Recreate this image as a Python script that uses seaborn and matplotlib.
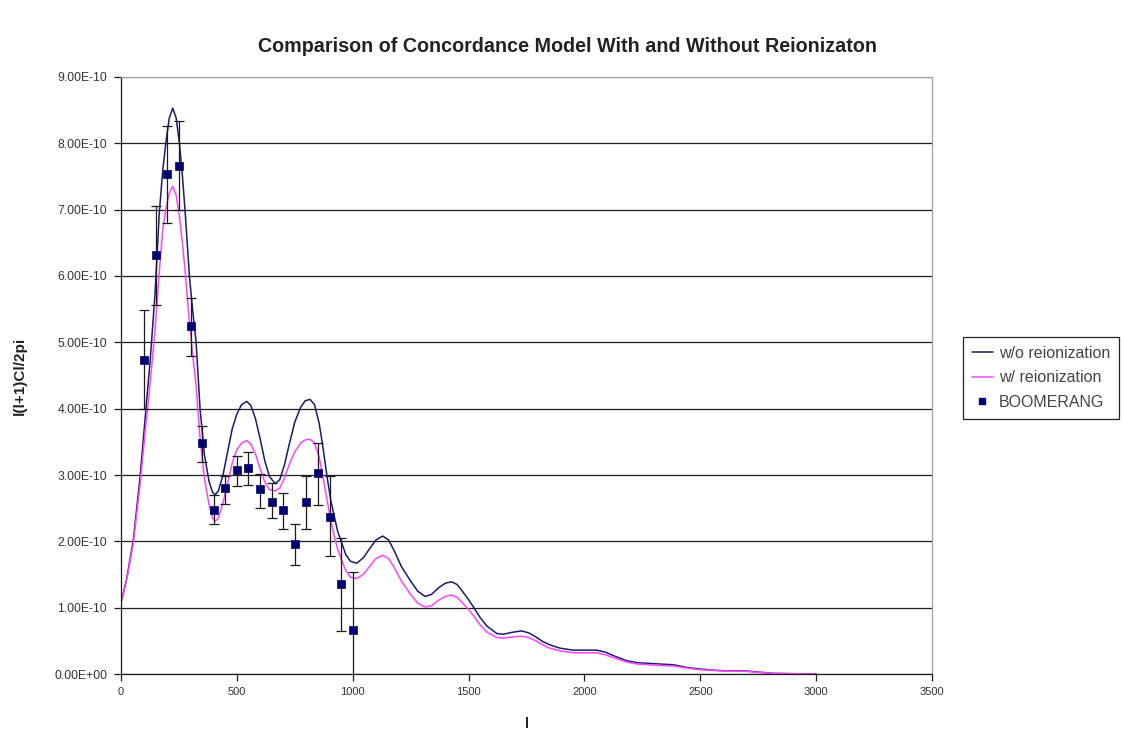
import numpy as np
import pandas as pd
import matplotlib
matplotlib.use("Agg")
import matplotlib.pyplot as plt
from matplotlib.ticker import FuncFormatter
from matplotlib.lines import Line2D
import seaborn as sns

# Multipole grid and model spectra, l(l+1)C_l/2pi in units of 1e-10
ell_model = [2, 25, 53, 82, 107, 126, 147, 165, 180, 193, 208, 223, 238, 252, 265, 276,
             295, 310, 324, 341, 360, 380, 395, 406, 420, 440, 460, 480, 500, 520, 542,
             560, 580, 600, 620, 640, 665, 685, 705, 725, 750, 775, 795, 816, 835, 855,
             870, 888, 905, 920, 935, 952, 970, 990, 1017, 1045, 1075, 1100, 1129, 1155,
             1180, 1210, 1250, 1280, 1312, 1340, 1370, 1400, 1427, 1450, 1475, 1500, 1521,
             1550, 1580, 1622, 1650, 1690, 1729, 1760, 1790, 1820, 1850, 1895, 1950, 2000,
             2053, 2090, 2130, 2183, 2230, 2280, 2330, 2384, 2440, 2499, 2550, 2600, 2650,
             2700, 2750, 2815, 2900, 3000]

no_reion = [1.10, 1.45, 2.02, 2.97, 3.98, 4.74, 5.75, 6.95, 7.60, 8.00, 8.38, 8.53, 8.38,
            8.00, 7.50, 7.00, 6.00, 5.45, 5.00, 4.00, 3.30, 2.90, 2.74, 2.70, 2.76, 3.00,
            3.35, 3.70, 3.92, 4.06, 4.11, 4.05, 3.85, 3.55, 3.22, 2.98, 2.87, 2.93, 3.15,
            3.45, 3.80, 4.02, 4.12, 4.14, 4.06, 3.78, 3.45, 3.00, 2.62, 2.38, 2.15, 1.98,
            1.80, 1.70, 1.67, 1.75, 1.90, 2.02, 2.08, 2.02, 1.85, 1.62, 1.40, 1.25, 1.17,
            1.20, 1.30, 1.37, 1.39, 1.35, 1.24, 1.12, 1.01, 0.85, 0.72, 0.61, 0.60, 0.63,
            0.65, 0.62, 0.56, 0.49, 0.44, 0.39, 0.36, 0.36, 0.36, 0.33, 0.27, 0.20, 0.17,
            0.16, 0.15, 0.14, 0.10, 0.075, 0.06, 0.05, 0.05, 0.045, 0.03, 0.01, 0.005, 0.0]

with_reion = [1.10, 1.43, 1.97, 2.85, 3.75, 4.40, 5.20, 6.05, 6.70, 7.00, 7.25, 7.35, 7.22,
              6.90, 6.50, 6.10, 5.30, 4.80, 4.35, 3.55, 2.95, 2.55, 2.35, 2.30, 2.35, 2.58,
              2.88, 3.18, 3.38, 3.48, 3.52, 3.47, 3.32, 3.10, 2.90, 2.78, 2.76, 2.80, 2.95,
              3.15, 3.35, 3.48, 3.53, 3.54, 3.48, 3.27, 3.00, 2.65, 2.32, 2.08, 1.88, 1.72,
              1.56, 1.46, 1.44, 1.50, 1.63, 1.74, 1.79, 1.74, 1.60, 1.40, 1.20, 1.07, 1.01,
              1.03, 1.11, 1.17, 1.19, 1.16, 1.07, 0.97, 0.88, 0.74, 0.63, 0.55, 0.54, 0.56,
              0.57, 0.55, 0.50, 0.44, 0.39, 0.35, 0.32, 0.32, 0.32, 0.29, 0.24, 0.18, 0.15,
              0.14, 0.13, 0.12, 0.09, 0.065, 0.055, 0.045, 0.045, 0.04, 0.025, 0.01, 0.005, 0.0]

# BOOMERANG band powers with error-bar bounds (units of 1e-10)
ell_boom = [100, 150, 200, 250, 300, 350, 400, 450, 500, 550, 600, 650, 700, 750, 800,
            850, 900, 950, 1000]
boom = [4.74, 6.31, 7.54, 7.66, 5.25, 3.49, 2.48, 2.80, 3.07, 3.11, 2.79, 2.60, 2.47,
        1.96, 2.60, 3.03, 2.37, 1.35, 0.66]
boom_hi = [5.48, 7.05, 8.26, 8.33, 5.67, 3.74, 2.70, 2.98, 3.28, 3.34, 3.02, 2.88, 2.73,
           2.26, 2.99, 3.49, 2.98, 2.05, 1.54]
boom_lo = [4.00, 5.57, 6.80, 7.00, 4.80, 3.20, 2.26, 2.57, 2.83, 2.85, 2.51, 2.35, 2.18,
           1.64, 2.18, 2.55, 1.78, 0.65, -0.30]

y_ticks = [0, 1, 2, 3, 4, 5, 6, 7, 8, 9]
x_ticks = [0, 500, 1000, 1500, 2000, 2500, 3000, 3500]

UNIT = 1e-10
NAVY = "#1a1a6e"
MAGENTA = "#ff44ff"
MARKER = "#000070"

sns.set_theme(style="white")
plt.rcParams["font.family"] = ["Liberation Sans", "DejaVu Sans"]

fig = plt.figure(figsize=(11.24, 7.36), dpi=100)
ax = fig.add_axes([0.1077, 0.0842, 0.8292 - 0.1077, 0.8954 - 0.0842])

models = pd.DataFrame({
    "l": ell_model * 2,
    "value": [v * UNIT for v in no_reion] + [v * UNIT for v in with_reion],
    "series": ["w/o reionization"] * len(ell_model) + ["w/ reionization"] * len(ell_model),
})
points = pd.DataFrame({
    "l": ell_boom,
    "value": [v * UNIT for v in boom],
})

# horizontal gridlines
for t in y_ticks:
    ax.axhline(t * UNIT, color="#9a9a9a" if t == 9 else "#1c1c1c", lw=0.9, zorder=0)

sns.lineplot(data=models, x="l", y="value", hue="series",
             palette={"w/o reionization": NAVY, "w/ reionization": MAGENTA},
             linewidth=1.1, ax=ax, legend=False, sort=False, estimator=None, zorder=2)

yerr = np.array([[(b - lo) * UNIT for b, lo in zip(boom, boom_lo)],
                 [(hi - b) * UNIT for b, hi in zip(boom, boom_hi)]])
ax.errorbar(ell_boom, [v * UNIT for v in boom], yerr=yerr, fmt="none",
            ecolor="#1a1a1a", elinewidth=0.9, capsize=3.5, capthick=0.9, zorder=3)
sns.scatterplot(data=points, x="l", y="value", marker="s", s=30, color=MARKER,
                edgecolor=MARKER, linewidth=0.5, ax=ax, legend=False, zorder=4)

ax.set_xlim(0, 3500)
ax.set_ylim(0, 9 * UNIT)
ax.set_xticks(x_ticks)
ax.set_yticks([t * UNIT for t in y_ticks])
ax.yaxis.set_major_formatter(FuncFormatter(lambda v, p: f"{v:.2E}"))
ax.tick_params(axis="both", which="major", direction="out", length=5, width=0.9,
               color="#1c1c1c", labelcolor="#333333", left=True, bottom=True)
ax.tick_params(axis="y", labelsize=8.7, pad=5)
ax.tick_params(axis="x", labelsize=8, pad=4)

for side in ["left", "bottom"]:
    ax.spines[side].set_color("#1c1c1c")
    ax.spines[side].set_linewidth(0.9)
for side in ["top", "right"]:
    ax.spines[side].set_color("#a0a0a0")
    ax.spines[side].set_linewidth(0.9)

ax.set_xlabel("l", fontsize=10.5, fontweight="bold", labelpad=15, color="#222222")
ax.set_ylabel("l(l+1)Cl/2pi", fontsize=11, fontweight="bold", labelpad=20, color="#222222")

fig.suptitle("Comparison of Concordance Model With and Without Reionizaton",
             x=0.505, y=1 - 46 / 736, va="center", fontsize=14.2, fontweight="bold",
             color="#222222")

handles = [Line2D([], [], color=NAVY, lw=1.1),
           Line2D([], [], color=MAGENTA, lw=1.1),
           Line2D([], [], color=MARKER, marker="s", ls="none", markersize=4.5)]
leg = fig.legend(handles, ["w/o reionization", "w/ reionization", "BOOMERANG"],
                 loc="upper left", bbox_to_anchor=(0.857, 0.542), fontsize=11.5,
                 frameon=True, fancybox=False, edgecolor="#222222", framealpha=1,
                 handlelength=1.3, handletextpad=0.4, borderpad=0.55, labelspacing=0.6,
                 borderaxespad=0, labelcolor="#444444")
leg.get_frame().set_linewidth(0.9)

fig.savefig("out.png", dpi=100, facecolor="white")
